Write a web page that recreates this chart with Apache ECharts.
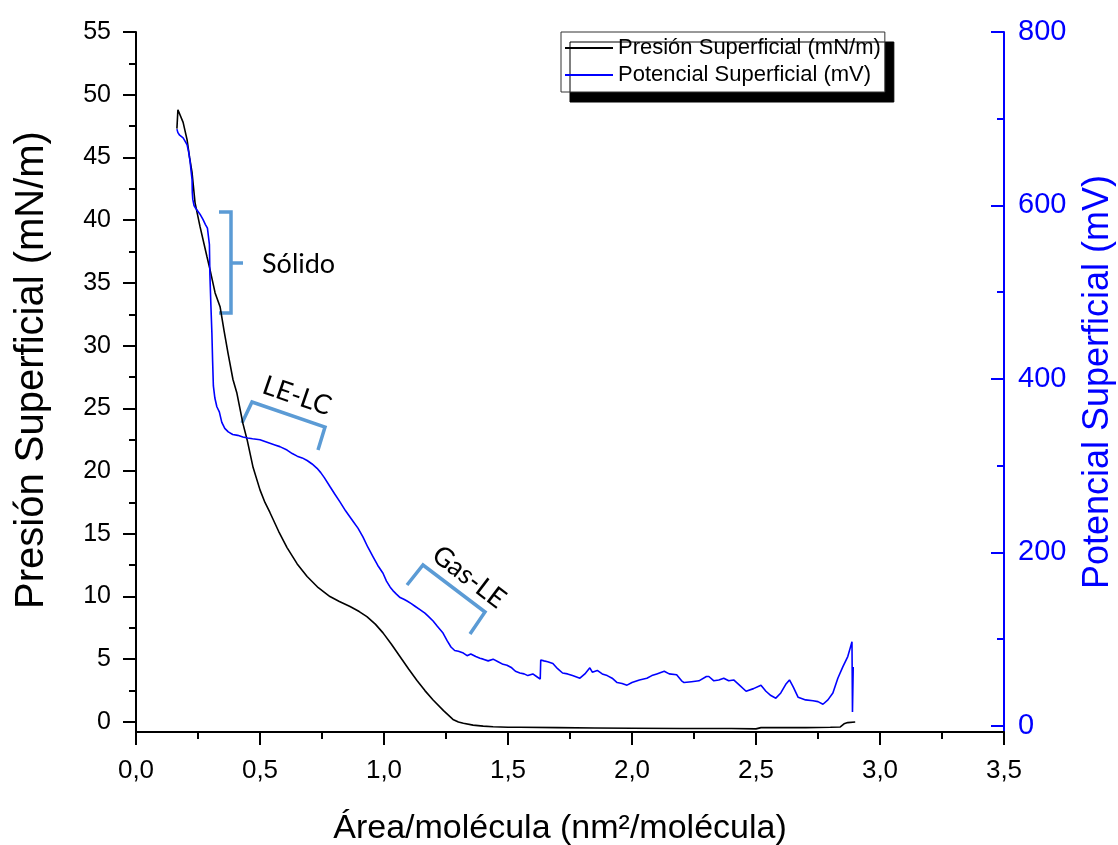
<!DOCTYPE html>
<html>
<head>
<meta charset="utf-8">
<title>Isoterma</title>
<script src="https://cdn.jsdelivr.net/npm/echarts@6/dist/echarts.min.js"></script>
<style>
  html, body { margin: 0; padding: 0; background: #fff; }
  #chart { width: 1118px; height: 845px; }
</style>
</head>
<body>
<div id="chart"></div>
<script>
// presión superficial (mN/m) vs área/molécula
const areaPresion = [
  0.165, 0.169, 0.177, 0.190, 0.206, 0.216, 0.226, 0.238, 0.258, 0.286,
  0.298, 0.319, 0.339, 0.355, 0.371, 0.391, 0.407, 0.431, 0.448, 0.472,
  0.500, 0.520, 0.540, 0.575, 0.609, 0.650, 0.690, 0.735, 0.782, 0.820,
  0.863, 0.900, 0.931, 0.965, 0.996, 1.030, 1.065, 1.100, 1.133, 1.165,
  1.198, 1.240, 1.278, 1.300, 1.320, 1.359, 1.400, 1.440, 1.500, 1.548,
  1.700, 1.850, 2.000, 2.200, 2.400, 2.500, 2.520, 2.700, 2.800, 2.840,
  2.855, 2.870, 2.900
];
const presion = [
  47.3, 48.8, 48.8, 47.8, 46.4, 45.0, 43.8, 41.4, 39.5, 37.1,
  36.1, 34.2, 33.1, 31.2, 29.4, 27.3, 26.2, 23.8, 22.5, 20.3,
  18.5, 17.5, 16.7, 15.2, 13.9, 12.6, 11.6, 10.7, 10.0, 9.6,
  9.2, 8.8, 8.4, 7.8, 7.1, 6.2, 5.2, 4.2, 3.3, 2.5,
  1.75, 0.9, 0.2, 0.0, -0.1, -0.25, -0.33, -0.38, -0.42, -0.42,
  -0.45, -0.48, -0.5, -0.52, -0.52, -0.55, -0.45, -0.45, -0.42, -0.4,
  -0.15, -0.05, 0.0
];

// potencial superficial (mV) vs área/molécula
const areaPotencial = [
  0.165, 0.169, 0.176, 0.190, 0.200, 0.206, 0.212, 0.218, 0.222, 0.226,
  0.227, 0.229, 0.234, 0.240, 0.248, 0.258, 0.270, 0.280, 0.288, 0.294,
  0.296, 0.298, 0.302, 0.306, 0.309, 0.312, 0.318, 0.326, 0.336, 0.346,
  0.358, 0.372, 0.390, 0.410, 0.431, 0.450, 0.470, 0.500, 0.520, 0.540,
  0.560, 0.580, 0.609, 0.630, 0.650, 0.670, 0.690, 0.710, 0.730, 0.745,
  0.760, 0.782, 0.800, 0.823, 0.845, 0.860, 0.875, 0.895, 0.915, 0.935,
  0.956, 0.975, 0.996, 1.010, 1.025, 1.036, 1.050, 1.065, 1.080, 1.093,
  1.110, 1.125, 1.145, 1.165, 1.180, 1.198, 1.215, 1.238, 1.255, 1.270,
  1.285, 1.300, 1.320, 1.335, 1.350, 1.370, 1.387, 1.400, 1.420, 1.440,
  1.460, 1.480, 1.496, 1.515, 1.530, 1.548, 1.565, 1.580, 1.600, 1.615,
  1.630, 1.632, 1.645, 1.660, 1.681, 1.700, 1.720, 1.740, 1.760, 1.790,
  1.810, 1.830, 1.840, 1.860, 1.880, 1.900, 1.920, 1.940, 1.960, 1.980,
  2.000, 2.030, 2.060, 2.080, 2.100, 2.130, 2.150, 2.180, 2.200, 2.210,
  2.240, 2.270, 2.300, 2.310, 2.330, 2.350, 2.370, 2.390, 2.410, 2.430,
  2.460, 2.490, 2.520, 2.540, 2.560, 2.580, 2.600, 2.620, 2.635, 2.650,
  2.670, 2.700, 2.730, 2.750, 2.770, 2.790, 2.810, 2.830, 2.850, 2.870,
  2.880, 2.887, 2.889, 2.892
];
const potencial = [
  688, 684, 681, 678, 673, 670, 662, 651, 640, 630,
  615, 607, 600, 597, 595, 590, 584, 578, 574, 573,
  555, 520, 485, 453, 420, 392, 378, 368, 362, 350,
  343, 339, 336, 335, 333, 332, 331, 330, 328, 326,
  324, 322, 318, 314, 311, 309, 306, 302, 297, 292,
  286, 276, 268, 258, 248, 242, 236, 228, 218, 206,
  195, 185, 176, 167, 160, 156, 152, 148, 146, 144,
  141, 138, 134, 130, 126, 121, 115, 107, 98, 91,
  87, 86, 84, 81, 83, 80, 78, 77, 75, 77,
  74, 71, 70, 67, 63, 61, 60, 58, 60, 57,
  54, 76, 75, 74, 72, 66, 61, 60, 58, 55,
  60, 67, 62, 64, 60, 58, 55, 50, 49, 47,
  50, 53, 55, 58, 60, 63, 60, 59, 52, 50,
  51, 52, 57, 57, 52, 53, 55, 52, 53, 48,
  40, 43, 47, 40, 35, 32, 38, 48, 53, 45,
  33, 30, 29, 28, 25, 30, 38, 55, 68, 80,
  90, 97, 16, 68
];

const ticksPresion = [0, 5, 10, 15, 20, 25, 30, 35, 40, 45, 50, 55];
const minorPresion = [2.5, 7.5, 12.5, 17.5, 22.5, 27.5, 32.5, 37.5, 42.5, 47.5, 52.5];
const ticksPotencial = [0, 200, 400, 600, 800];
const minorPotencial = [100, 300, 500, 700];

const zip = (xs, ys) => xs.map((x, i) => [x, ys[i]]);

const chart = echarts.init(document.getElementById("chart"));

const BLUE = "#0000ff";
const BRACKET = "#5b9bd5";
const FONT = "Liberation Sans";

chart.setOption({
  animation: false,
  textStyle: { fontFamily: FONT },
  grid: { left: 136, right: 114, top: 32, bottom: 113, outerBoundsMode: "none", containLabel: false },
  legend: {
    orient: "vertical",
    left: 561,
    top: 32,
    padding: [5, 4, 6, 4],
    itemGap: 5,
    itemWidth: 48,
    itemHeight: 2,
    backgroundColor: "#fff",
    borderColor: "#333",
    borderWidth: 1,
    shadowColor: "#000",
    shadowBlur: 0,
    shadowOffsetX: 9,
    shadowOffsetY: 10,
    textStyle: { fontFamily: FONT, fontSize: 22, color: "#000", lineHeight: 22 },
    data: [
      { name: "Presión Superficial (mN/m)", icon: "rect" },
      { name: "Potencial Superficial (mV)", icon: "rect" }
    ]
  },
  xAxis: {
    type: "value",
    min: 0,
    max: 3.5,
    interval: 0.5,
    name: "Área/molécula (nm²/molécula)",
    nameLocation: "middle",
    nameGap: 80,
    nameTextStyle: { fontSize: 34, color: "#000", fontFamily: FONT, padding: [0, 20, 0, 0] },
    axisLine: { onZero: false, lineStyle: { color: "#000", width: 2 } },
    axisTick: { length: 13, lineStyle: { color: "#000", width: 2 } },
    minorTick: { show: true, splitNumber: 2, length: 7, lineStyle: { color: "#000", width: 2 } },
    axisLabel: {
      margin: 26,
      fontSize: 26,
      color: "#000",
      formatter: v => v.toFixed(1).replace(".", ",")
    },
    splitLine: { show: false },
    minorSplitLine: { show: false }
  },
  yAxis: [
    {
      type: "value",
      position: "left",
      min: -0.8,
      max: 55,
      name: "Presión Superficial (mN/m)",
      nameLocation: "middle",
      nameRotate: 90,
      nameGap: 84,
      nameTextStyle: { fontSize: 40, color: "#000", fontFamily: FONT, padding: [0, 0, 0, 24] },
      axisLine: { show: true, lineStyle: { color: "#000", width: 2 } },
      axisTick: { show: true, length: 13, customValues: ticksPresion, lineStyle: { color: "#000", width: 2 } },
      axisLabel: { customValues: ticksPresion, margin: 25, fontSize: 25, color: "#000" },
      splitLine: { show: false }
    },
    {
      type: "value",
      position: "right",
      min: -7,
      max: 800,
      name: "Potencial Superficial (mV)",
      nameLocation: "middle",
      nameRotate: 90,
      nameGap: 76,
      nameTextStyle: { fontSize: 36, color: BLUE, fontFamily: FONT },
      axisLine: { show: true, lineStyle: { color: BLUE, width: 2 } },
      axisTick: { show: true, inside: true, length: 13, customValues: ticksPotencial, lineStyle: { color: BLUE, width: 2 } },
      axisLabel: { customValues: ticksPotencial, margin: 14, fontSize: 29, color: BLUE },
      splitLine: { show: false }
    },
    {
      // ticks menores izquierda
      type: "value",
      position: "left",
      min: -0.8,
      max: 55,
      axisLine: { show: false },
      axisTick: { show: true, length: 7, customValues: minorPresion, lineStyle: { color: "#000", width: 2 } },
      axisLabel: { show: false },
      splitLine: { show: false }
    },
    {
      // ticks menores derecha
      type: "value",
      position: "right",
      min: -7,
      max: 800,
      axisLine: { show: false },
      axisTick: { show: true, inside: true, length: 7, customValues: minorPotencial, lineStyle: { color: BLUE, width: 2 } },
      axisLabel: { show: false },
      splitLine: { show: false }
    }
  ],
  series: [
    {
      name: "Presión Superficial (mN/m)",
      type: "line",
      yAxisIndex: 0,
      showSymbol: false,
      symbol: "none",
      color: "#000",
      lineStyle: { color: "#000", width: 1.6 },
      data: zip(areaPresion, presion)
    },
    {
      name: "Potencial Superficial (mV)",
      type: "line",
      yAxisIndex: 1,
      showSymbol: false,
      symbol: "none",
      color: BLUE,
      lineStyle: { color: BLUE, width: 1.6 },
      data: zip(areaPotencial, potencial)
    }
  ],
  graphic: [
    // Sólido
    {
      type: "polyline",
      shape: { points: [[219, 212], [231, 212], [231, 313], [219, 313]] },
      style: { stroke: BRACKET, lineWidth: 3.5, fill: null }
    },
    {
      type: "line",
      shape: { x1: 231, y1: 263, x2: 243, y2: 263 },
      style: { stroke: BRACKET, lineWidth: 3.5 }
    },
    {
      type: "text",
      x: 262,
      y: 264,
      style: { text: "Sólido", font: "27px Lato", fill: "#000", align: "left", verticalAlign: "middle" }
    },
    // LE-LC
    {
      type: "polyline",
      shape: { points: [[242, 423], [252, 402], [325, 427], [318, 450]] },
      style: { stroke: BRACKET, lineWidth: 3.5, fill: null }
    },
    {
      type: "text",
      x: 297,
      y: 396,
      rotation: -0.33,
      style: { text: "LE-LC", font: "27px Lato", fill: "#000", align: "center", verticalAlign: "middle" }
    },
    // Gas-LE
    {
      type: "polyline",
      shape: { points: [[407, 585], [423, 565], [485, 612], [470, 634]] },
      style: { stroke: BRACKET, lineWidth: 3.5, fill: null }
    },
    {
      type: "text",
      x: 469,
      y: 577,
      rotation: -0.65,
      style: { text: "Gas-LE", font: "27px Lato", fill: "#000", align: "center", verticalAlign: "middle" }
    }
  ]
});
</script>
</body>
</html>
